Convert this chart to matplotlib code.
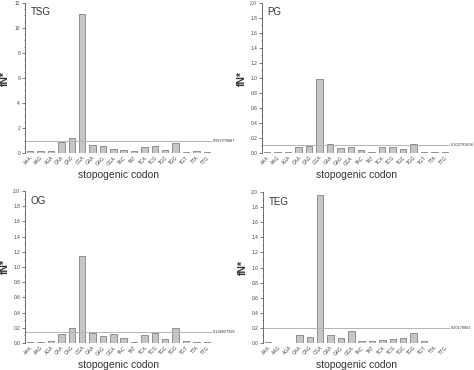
import numpy as np
import matplotlib
import matplotlib.pyplot as plt

matplotlib.rcParams['font.family'] = ['Liberation Sans', 'DejaVu Sans']

codons = ["AAA", "AAG", "AGA", "CAA", "CAG", "CGA", "GAA", "GAG", "GGA",
          "TAC", "TAT", "TCA", "TCG", "TGC", "TGG", "TGT", "TTA", "TTG"]

tsg = [0.16, 0.13, 0.20, 0.88, 1.18, 11.1, 0.68, 0.60, 0.35,
       0.27, 0.15, 0.50, 0.60, 0.24, 0.77, 0.10, 0.17, 0.08]
pg = [0.013, 0.013, 0.018, 0.084, 0.10, 0.98, 0.115, 0.07, 0.084,
      0.035, 0.013, 0.084, 0.084, 0.053, 0.124, 0.009, 0.013, 0.013]
og = [0.018, 0.013, 0.03, 0.12, 0.20, 1.14, 0.13, 0.09, 0.12,
      0.07, 0.018, 0.105, 0.135, 0.057, 0.20, 0.026, 0.013, 0.013]
teg = [0.018, 0.0, 0.0, 0.10, 0.085, 1.96, 0.105, 0.06, 0.16,
       0.026, 0.026, 0.035, 0.05, 0.065, 0.135, 0.03, 0.0, 0.0]

panels = [
    ("TSG", tsg, 0.997279887, "0.997279887", 12, 2, 0.5, "{:.0f}"),
    ("PG", pg, 0.102791608, "0.102791608", 2.0, 0.2, 0.1, "{:.1f}"),
    ("OG", og, 0.138927929, "0.138927929", 2.0, 0.2, 0.1, "{:.1f}"),
    ("TEG", teg, 0.20179901, "0.20179901", 2.0, 0.2, 0.1, "{:.1f}"),
]

# axes rectangles in pixels: left, top, right, bottom
rects = [(25, 3, 212, 153), (262, 3, 450, 153),
         (25, 191, 212, 343), (263, 192, 450, 343)]

W, H = 474, 370
fig = plt.figure(figsize=(W / 100, H / 100), dpi=100)

x = np.arange(len(codons))
for (name, vals, thr, thr_txt, ymax, major, minor, fmt), (l, t, r, b) in zip(panels, rects):
    ax = fig.add_axes([l / W, (H - b) / H, (r - l) / W, (b - t) / H])
    ax.bar(x, vals, width=0.62, color="#c6c6c6", edgecolor="#6e6e6e", linewidth=0.5)
    ax.axhline(thr, color="#b4b4b4", linewidth=0.7)
    ax.text(1.005, thr, thr_txt, transform=ax.get_yaxis_transform(),
            fontsize=2.8, va="center", ha="left", color="#333333")
    ax.set_xlim(-0.5, 17.5)
    major_ticks = np.arange(0, ymax + major / 2, major)
    ax.set_yticks(major_ticks)
    ax.set_yticks(np.arange(0, ymax + minor / 2, minor), minor=True)
    ax.set_yticklabels([fmt.format(v) for v in major_ticks])
    ax.set_ylim(0, ymax)
    ax.set_xticks(x)
    ax.set_xticklabels(codons, rotation=45, ha="right", rotation_mode="anchor")
    ax.tick_params(axis="both", which="major", labelsize=3.5, length=2, width=0.5,
                   colors="#444444", pad=1.5)
    ax.tick_params(axis="y", which="minor", length=1, width=0.4, colors="#444444")
    ax.tick_params(axis="x", length=0)
    for s in ["top", "right", "bottom"]:
        ax.spines[s].set_visible(False)
    ax.spines["left"].set_color("#555555")
    ax.spines["left"].set_linewidth(0.6)
    ax.set_ylabel("fN*", fontsize=7.5, fontweight="bold", color="#333333")
    # keep label centre about 10 px from the panel's left edge
    ax.yaxis.set_label_coords((l - 15 - l) / (r - l) if l < 100 else -15 / (r - l), 0.5)
    ax.set_xlabel("stopogenic codon", fontsize=7.5, color="#333333", labelpad=3)
    ax.text(0.03, 0.97, name, transform=ax.transAxes, fontsize=7, va="top",
            ha="left", color="#333333")

fig.savefig("out.png", dpi=100)
